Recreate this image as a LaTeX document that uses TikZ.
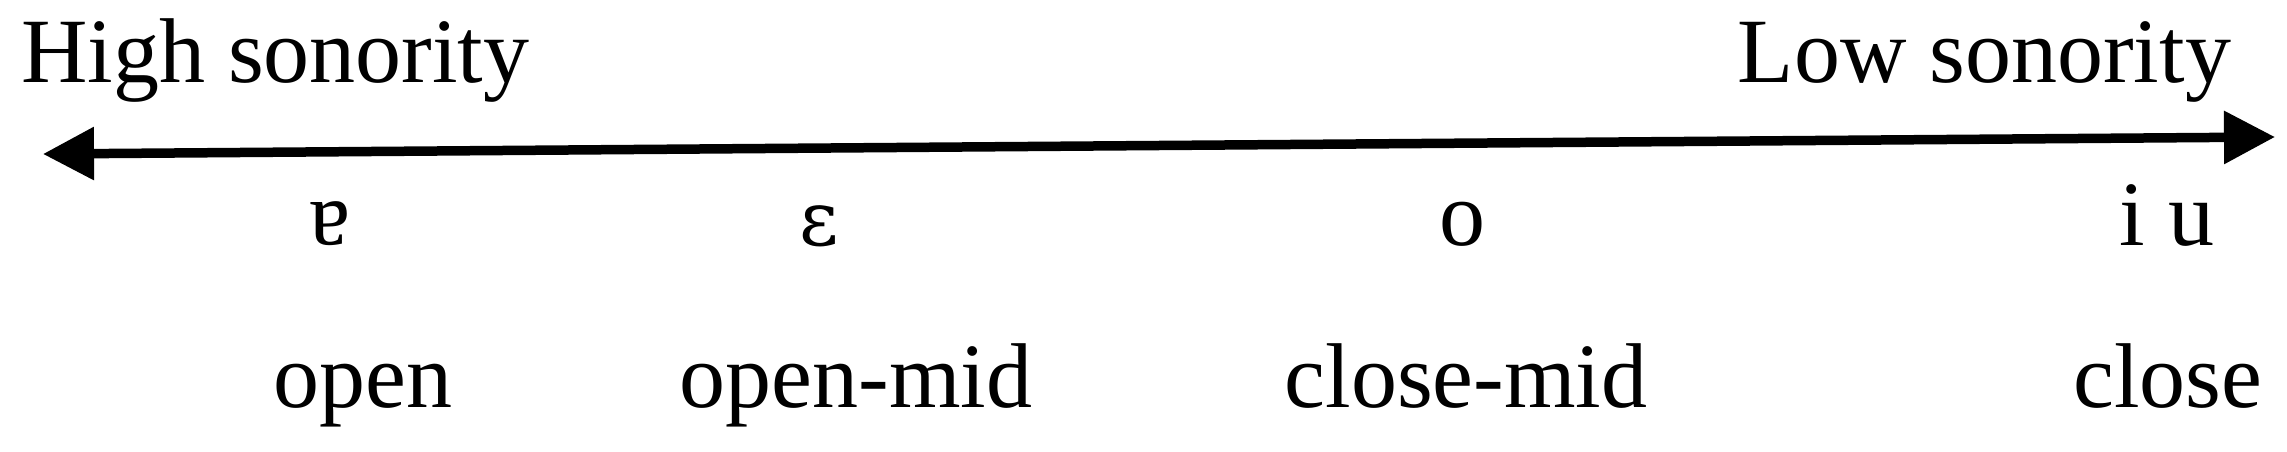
\documentclass[tikz,border=0pt]{standalone}
\usepackage{fontspec}
\setmainfont{Liberation Serif}
\newfontfamily\ipafont{DejaVu Serif}
\usepackage{graphicx}
\usetikzlibrary{arrows.meta}
\tikzset{
  lbl/.style={inner sep=0pt, outer sep=0pt, anchor=base, font=\fontsize{92}{110}\selectfont},
  scalearrow/.style={line width=9.5pt, {Triangle[length=51pt,width=51pt]}-{Triangle[length=51pt,width=51pt]}}
}
\begin{document}
\begin{tikzpicture}[x=1pt,y=-1pt]
\useasboundingbox (0,0) rectangle (2287,452);
\node[lbl, anchor=base west] (high) at (21,83) {High sonority};
\node[lbl, anchor=base east] (low) at (2231,83) {Low sonority};
\coordinate (L) at (43,154);
\coordinate (R) at (2275,137);
\draw[scalearrow] (L) -- (R);
\node[lbl] (va) at (330,245) {\rotatebox[origin=c]{180}{a}};
\node[lbl] (ve) at (819,245) {\ipafont\fontsize{76}{90}\selectfont ɛ};
\node[lbl] (vo) at (1462,245) {o};
\node[lbl] (viu) at (2167,245) {i u};
\node[lbl] (open) at (363,407) {open};
\node[lbl] (openmid) at (856,407) {open-mid};
\node[lbl] (closemid) at (1466,407) {close-mid};
\node[lbl] (close) at (2168,407) {close};
\end{tikzpicture}
\end{document}
